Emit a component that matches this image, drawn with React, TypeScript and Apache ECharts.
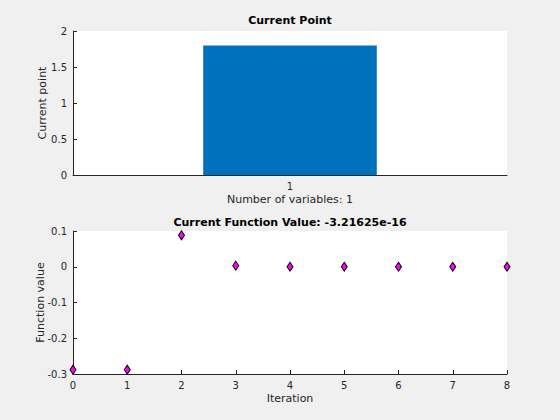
import React, { useEffect, useRef } from "react";
import * as echarts from "echarts";

const barCategories = ["1"];
const barValues = [1.8];
const iterations = [0, 1, 2, 3, 4, 5, 6, 7, 8];
const fvals = [-0.288, -0.288, 0.088, 0.003, 0, 0, 0, 0, 0];

const AXIS = "#262626";
const FONT = "DejaVu Sans";

export default function App() {
  const ref = useRef<HTMLDivElement>(null);
  useEffect(() => {
    const chart = echarts.init(ref.current!, undefined, { renderer: "svg" });
    const axisCommon = {
      axisLine: { show: true, onZero: false, lineStyle: { color: AXIS, width: 1 } },
      axisTick: { show: true, inside: true, length: 4, lineStyle: { color: AXIS } },
      axisLabel: { color: AXIS, fontSize: 10, fontFamily: FONT, margin: 6 },
      splitLine: { show: false },
      nameTextStyle: { color: AXIS, fontSize: 11, fontFamily: FONT },
      nameLocation: "middle" as const,
      nameMoveOverlap: false,
    };
    chart.setOption({
      animation: false,
      backgroundColor: "#f0f0f0",
      textStyle: { fontFamily: FONT },
      grid: [
        { left: 73, top: 31, width: 434, height: 144, show: true, backgroundColor: "#ffffff", borderWidth: 0 },
        { left: 73, top: 231, width: 434, height: 143, show: true, backgroundColor: "#ffffff", borderWidth: 0 },
      ],
      graphic: [
        { type: "text", x: 290, y: 15, style: { text: "Current Point", fill: "#000", font: `bold 11px '${FONT}'`, textAlign: "center" } },
        { type: "text", x: 290, y: 217, style: { text: "Current Function Value: -3.21625e-16", fill: "#000", font: `bold 11px '${FONT}'`, textAlign: "center" } },
      ],
      xAxis: [
        {
          ...axisCommon,
          gridIndex: 0,
          type: "category",
          data: barCategories,
          boundaryGap: true,
          axisTick: { ...axisCommon.axisTick, alignWithLabel: true },
          name: "Number of variables: 1",
          nameGap: 19,
        },
        {
          ...axisCommon,
          gridIndex: 1,
          type: "value",
          min: 0,
          max: 8,
          interval: 1,
          name: "Iteration",
          nameGap: 19,
        },
      ],
      yAxis: [
        {
          ...axisCommon,
          gridIndex: 0,
          type: "value",
          min: 0,
          max: 2,
          interval: 0.5,
          name: "Current point",
          nameGap: 25,
        },
        {
          ...axisCommon,
          gridIndex: 1,
          type: "value",
          min: -0.3,
          max: 0.1,
          interval: 0.1,
          name: "Function value",
          nameGap: 27,
          axisLabel: {
            ...axisCommon.axisLabel,
            formatter: (v: number) => String(parseFloat(v.toFixed(1))),
          },
        },
      ],
      series: [
        {
          type: "bar",
          xAxisIndex: 0,
          yAxisIndex: 0,
          data: barValues,
          barWidth: "40%",
          itemStyle: { color: "#0072bd" },
        },
        {
          type: "scatter",
          xAxisIndex: 1,
          yAxisIndex: 1,
          data: iterations.map((x, i) => [x, fvals[i]]),
          symbol: "diamond",
          symbolSize: [6, 9],
          clip: false,
          itemStyle: { color: "#ff00ff", opacity: 1, borderColor: "#000", borderWidth: 1 },
        },
      ],
    });
    return () => chart.dispose();
  }, []);
  return (
    <div
      ref={ref}
      style={{ position: "fixed", left: 0, top: 0, width: 560, height: 420 }}
    />
  );
}
